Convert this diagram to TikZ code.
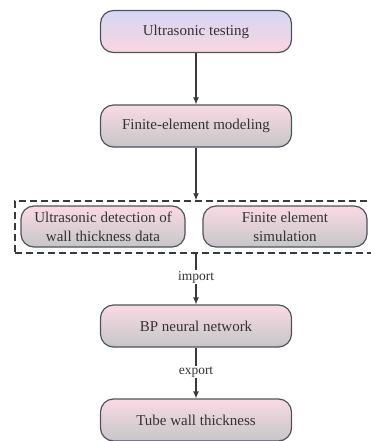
\documentclass[tikz,border=0pt]{standalone}
\usepackage{fontspec}
\setmainfont{Liberation Serif}
\usetikzlibrary{arrows.meta}
\definecolor{edgec}{HTML}{4E545C}
\definecolor{linec}{HTML}{3A3A3A}
\definecolor{txtc}{HTML}{333333}
\definecolor{lav}{HTML}{D6D6F6}
\definecolor{pinktop}{HTML}{FADAE4}
\definecolor{pinkbot}{HTML}{F9D6DE}
\definecolor{greybot}{HTML}{C6C6C8}
\tikzset{
  flowbox/.style={draw=edgec, line width=1.2pt, rounded corners=13pt,
    minimum width=191pt, minimum height=42pt, inner sep=0pt,
    top color=pinktop, bottom color=greybot, text=txtc,
    font=\fontsize{15}{19}\selectfont, align=center},
  firstbox/.style={flowbox, top color=lav, bottom color=pinkbot},
  subbox/.style={flowbox, minimum width=164pt, minimum height=41pt},
  groupbox/.style={draw=linec, line width=1.5pt, dash pattern=on 7pt off 4pt,
    minimum width=359pt, minimum height=52pt, inner sep=0pt},
  flowlabel/.style={text=txtc, font=\fontsize{13.5}{15}\selectfont, inner sep=1pt},
  link/.style={draw=linec, line width=1.2pt},
  arrowlink/.style={link, -{Latex[length=7pt,width=6pt]}}
}
\begin{document}
\begin{tikzpicture}[x=1pt,y=-1pt]
  \useasboundingbox (0,0) rectangle (370,441);
  \node[firstbox] (ut) at (196,31.5) {Ultrasonic testing};
  \node[flowbox] (fem) at (196,126) {Finite-element modeling};
  \node[groupbox] (grp) at (194.5,227) {};
  \node[subbox] (det) at (103,226.5) {Ultrasonic detection of\\wall thickness data};
  \node[subbox] (sim) at (285,226.5) {Finite element\\simulation};
  \node[flowbox] (bp) at (196,326) {BP neural network};
  \node[flowbox] (tube) at (196,420) {Tube wall thickness};
  \node[flowlabel] (imp) at (196,277) {import};
  \node[flowlabel] (exp) at (196,372) {export};

  \draw[arrowlink] (ut) -- (fem);
  \draw[arrowlink] (fem) -- (fem |- grp.north);
  \draw[link] (grp.south -| imp) -- (imp);
  \draw[arrowlink] (imp) -- (bp);
  \draw[link] (bp) -- (exp);
  \draw[arrowlink] (exp) -- (tube);
\end{tikzpicture}
\end{document}
